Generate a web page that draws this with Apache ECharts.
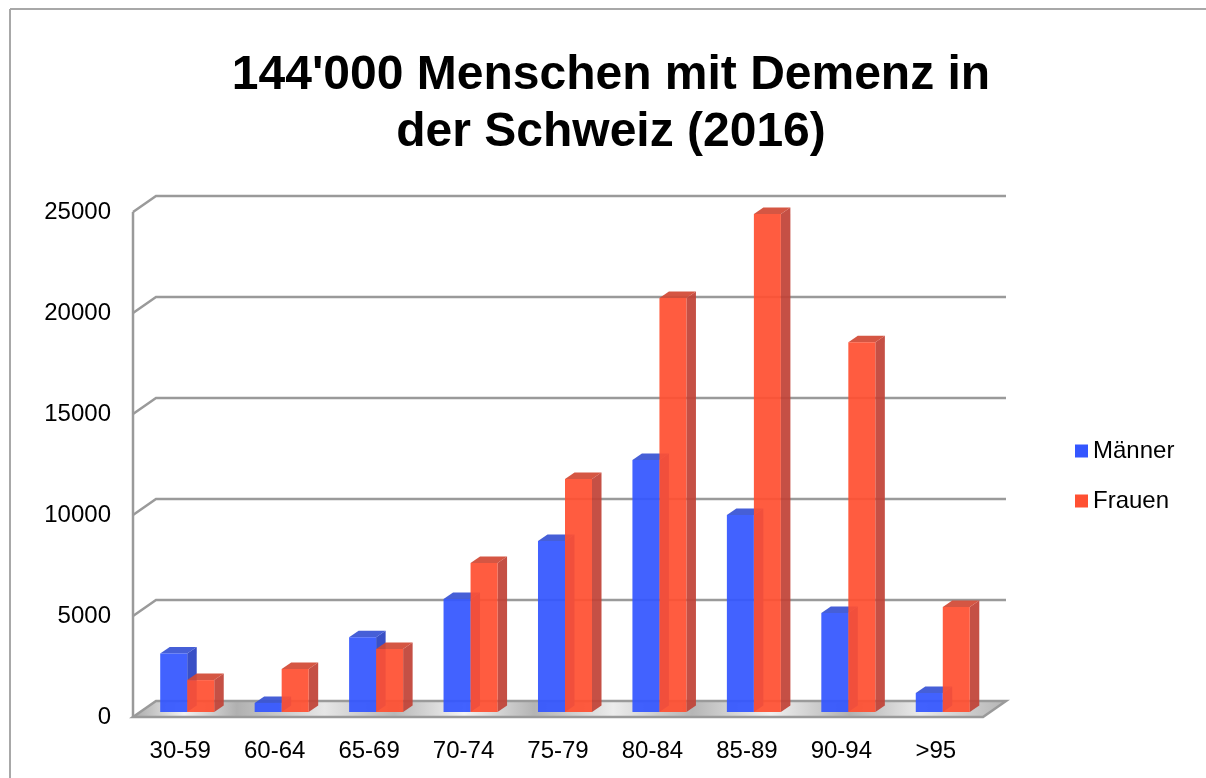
<!DOCTYPE html>
<html>
<head>
<meta charset="utf-8">
<script src="https://cdn.jsdelivr.net/npm/echarts@6/dist/echarts.min.js"></script>
<style>
html,body{margin:0;padding:0;background:#fff;}
#c{width:1206px;height:778px;}
</style>
</head>
<body>
<div id="c"></div>
<script>
const categories = ['30-59','60-64','65-69','70-74','75-79','80-84','85-89','90-94','>95'];
const maenner = [2900, 450, 3700, 5600, 8470, 12480, 9750, 4900, 940];
const frauen = [1580, 2130, 3120, 7380, 11530, 20500, 24650, 18300, 5200];
const yTicks = [0, 5000, 10000, 15000, 20000, 25000];

const FONT = '"Liberation Sans", Arial, Helvetica, sans-serif';
const DEPTH = [23, -16];      // wall depth offset
const BAR_IN = [7, -5];       // bar front face depth offset
const BAR_D = [9.5, -6.5];    // bar depth
const BLUE = {front:'#3456ff', side:'#2a43c2', top:'#3853d4'};
const RED = {front:'#ff5032', side:'#c14337', top:'#d24935'};

const chart = echarts.init(document.getElementById('c'), null, {renderer:'canvas'});

function barRender(colors, isLeft) {
  return function(params, api) {
    const i = api.value(0), v = api.value(1);
    const c = api.coord([i, v]);
    const c0 = api.coord([i, 0]);
    const band = api.size([1, 0])[0];
    const w = band * 0.286;
    const cx = c[0] + BAR_IN[0];
    const x0 = isLeft ? cx - w : cx;
    const x1 = isLeft ? cx : cx + w;
    const yT = c[1] + BAR_IN[1];
    const yB = c0[1] + BAR_IN[1];
    const dx = BAR_D[0], dy = BAR_D[1];
    const op = 0.93;
    return {
      type: 'group',
      children: [
        {type:'polygon', shape:{points:[[x1,yT],[x1+dx,yT+dy],[x1+dx,yB+dy],[x1,yB]]}, style:{fill:colors.side, opacity:op}},
        {type:'polygon', shape:{points:[[x0,yT],[x0+dx,yT+dy],[x1+dx,yT+dy],[x1,yT]]}, style:{fill:colors.top, opacity:op}},
        {type:'rect', shape:{x:x0, y:yT, width:x1-x0, height:yB-yT}, style:{fill:colors.front, opacity:op}}
      ]
    };
  };
}

chart.setOption({
  animation: false,
  backgroundColor: '#fff',
  title: {
    text: "144'000 Menschen mit Demenz in\nder Schweiz (2016)",
    left: 606, top: 42, textAlign: 'center',
    textStyle: {fontFamily: FONT, fontSize: 48, fontWeight: 'bold', color: '#000', lineHeight: 57}
  },
  legend: {
    orient: 'vertical', left: 1070, top: 434,
    itemWidth: 13, itemHeight: 13, itemGap: 26, icon: 'rect',
    textStyle: {fontFamily: FONT, fontSize: 24, color: '#000'},
    data: ['Männer', 'Frauen']
  },
  grid: {left: 133, top: 212, width: 850, height: 505, containLabel: false},
  xAxis: {
    type: 'category', data: categories,
    axisLine: {show: false}, axisTick: {show: false}, splitLine: {show: false},
    axisLabel: {fontFamily: FONT, fontSize: 24, color: '#000', margin: 22, interval: 0}
  },
  yAxis: {
    type: 'value', min: 0, max: 25000, interval: 5000,
    axisLine: {show: false}, axisTick: {show: false}, splitLine: {show: false},
    axisLabel: {fontFamily: FONT, fontSize: 24, color: '#000', margin: 22, formatter: v => String(v)}
  },
  graphic: [
    {type:'line', shape:{x1:10, y1:9, x2:1206, y2:9}, style:{stroke:'#a8a8a8', lineWidth:2}, silent:true},
    {type:'line', shape:{x1:10, y1:9, x2:10, y2:778}, style:{stroke:'#a8a8a8', lineWidth:2}, silent:true}
  ],
  series: [
    {
      type: 'custom', name: 'wall', silent: true, z: 1,
      data: yTicks.map(t => [0, t]),
      renderItem: function(params, api) {
        const cs = params.coordSys;
        const y = api.coord([0, api.value(1)])[1];
        const x = cs.x;
        const children = [];
        if (api.value(1) !== 0) {
          children.push({type:'polyline', shape:{points:[[x, y],[x+DEPTH[0], y+DEPTH[1]],[x+cs.width+DEPTH[0], y+DEPTH[1]]]},
            style:{stroke:'#9a9a9a', lineWidth:2.5, fill:null}});
        }
        if (params.dataIndex === 0) {
          const yTop = api.coord([0, yTicks[yTicks.length-1]])[1];
          children.push({type:'line', shape:{x1:x, y1:y, x2:x, y2:yTop}, style:{stroke:'#9a9a9a', lineWidth:2.5}});
        }
        return {type:'group', children};
      }
    },
    {
      type: 'custom', name: 'floor', silent: true, z: 2,
      data: [[0, 0]],
      renderItem: function(params, api) {
        const cs = params.coordSys;
        const y = api.coord([0, 0])[1];
        const x = cs.x, w = cs.width;
        return {
          type: 'polygon',
          shape: {points:[[x, y],[x+w, y],[x+w+DEPTH[0], y+DEPTH[1]],[x+DEPTH[0], y+DEPTH[1]]]},
          style: {
            fill: new echarts.graphic.LinearGradient(0, 0, 1, 0.3, [
              {offset:0, color:'#a8a8a8'}, {offset:0.06, color:'#f2f2f2'}, {offset:0.12, color:'#b0b0b0'},
              {offset:0.22, color:'#e6e6e6'}, {offset:0.3, color:'#b8b8b8'}, {offset:0.38, color:'#f4f4f4'},
              {offset:0.46, color:'#b4b4b4'}, {offset:0.55, color:'#ececec'}, {offset:0.64, color:'#b6b6b6'},
              {offset:0.73, color:'#f0f0f0'}, {offset:0.82, color:'#b2b2b2'}, {offset:0.9, color:'#eaeaea'},
              {offset:1, color:'#b4b4b4'}
            ]),
            stroke: '#9a9a9a', lineWidth: 2.5
          }
        };
      }
    },
    {
      type: 'custom', name: 'Männer', z: 3,
      itemStyle: {color: BLUE.front},
      data: maenner.map((v, i) => [i, v]),
      encode: {x: 0, y: 1},
      renderItem: barRender(BLUE, true)
    },
    {
      type: 'custom', name: 'Frauen', z: 4,
      itemStyle: {color: RED.front},
      data: frauen.map((v, i) => [i, v]),
      encode: {x: 0, y: 1},
      renderItem: barRender(RED, false)
    }
  ]
});
</script>
</body>
</html>
